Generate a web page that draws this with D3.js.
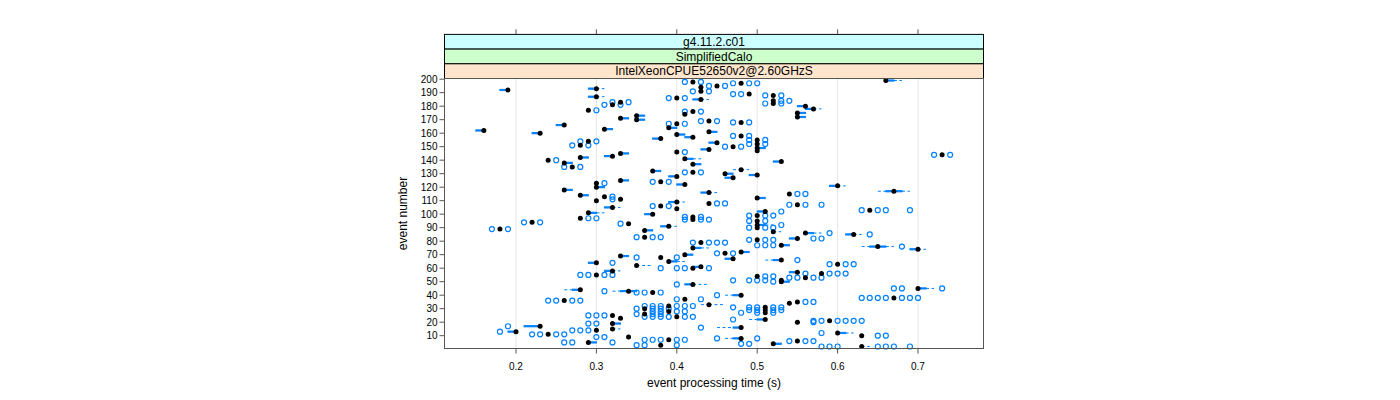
<!DOCTYPE html>
<html><head><meta charset="utf-8">
<script src="https://cdn.jsdelivr.net/npm/d3@7"></script>
<style>body{margin:0;background:#fff}svg{display:block;font-family:"Liberation Sans",Arial,Helvetica,sans-serif}</style>
</head><body><svg id="chart" width="1400" height="400"></svg>
<script>
const stripLabels = ["g4.11.2.c01", "SimplifiedCalo", "IntelXeonCPUE52650v2@2.60GHzS"];
const stripColors = ["#ccffff", "#ccffcc", "#ffe5cc"];
const xTicks = [0.2, 0.3, 0.4, 0.5, 0.6, 0.7];
const yTicks = [10,20,30,40,50,60,70,80,90,100,110,120,130,140,150,160,170,180,190,200];
const xLabel = "event processing time (s)";
const yLabel = "event number";

// [event, lower whisker, Q1, median, Q3, upper whisker]
const boxStats = [
[199,0.66,0.66,0.66,0.67,0.68],[198,0.42,0.42,0.42,0.42,0.42],[197,0.48,0.48,0.48,0.48,0.48],
[195,0.45,0.45,0.45,0.45,0.45],[194,0.43,0.43,0.43,0.43,0.43],[193,0.29,0.29,0.30,0.30,0.31],
[192,0.18,0.18,0.19,0.19,0.19],[191,0.43,0.43,0.43,0.43,0.43],[189,0.49,0.49,0.49,0.49,0.49],
[188,0.52,0.52,0.52,0.52,0.52],[187,0.29,0.29,0.30,0.30,0.31],[186,0.40,0.40,0.40,0.40,0.40],
[185,0.42,0.42,0.43,0.43,0.44],[184,0.52,0.52,0.52,0.52,0.52],[183,0.33,0.33,0.33,0.33,0.33],
[182,0.52,0.52,0.52,0.52,0.52],[181,0.32,0.32,0.32,0.32,0.32],[180,0.55,0.55,0.56,0.56,0.56],
[178,0.56,0.56,0.57,0.57,0.58],[177,0.29,0.29,0.29,0.29,0.29],[176,0.42,0.42,0.42,0.42,0.42],
[175,0.55,0.55,0.55,0.56,0.56],[174,0.41,0.41,0.41,0.41,0.41],[173,0.35,0.35,0.35,0.36,0.36],
[172,0.55,0.55,0.55,0.56,0.56],[171,0.33,0.33,0.33,0.34,0.34],[170,0.35,0.35,0.35,0.36,0.36],
[169,0.44,0.44,0.44,0.44,0.44],[168,0.48,0.48,0.48,0.48,0.48],[167,0.40,0.40,0.40,0.40,0.40],
[166,0.25,0.25,0.26,0.26,0.26],[164,0.39,0.39,0.39,0.40,0.40],[163,0.31,0.31,0.31,0.32,0.32],
[162,0.15,0.15,0.16,0.16,0.16],[161,0.44,0.44,0.44,0.45,0.45],[160,0.22,0.22,0.23,0.23,0.23],
[159,0.40,0.40,0.40,0.41,0.41],[158,0.48,0.48,0.48,0.48,0.48],[157,0.41,0.41,0.42,0.42,0.42],
[156,0.37,0.37,0.38,0.38,0.38],[155,0.50,0.50,0.50,0.50,0.50],[154,0.29,0.29,0.29,0.29,0.29],
[153,0.44,0.44,0.45,0.45,0.45],[152,0.50,0.50,0.50,0.50,0.50],[151,0.28,0.28,0.28,0.28,0.28],
[150,0.47,0.47,0.47,0.47,0.47],[149,0.50,0.50,0.50,0.51,0.51],[148,0.43,0.43,0.44,0.44,0.44],
[147,0.50,0.50,0.50,0.50,0.50],[146,0.40,0.40,0.40,0.40,0.40],[145,0.33,0.33,0.33,0.34,0.34],
[144,0.73,0.73,0.73,0.73,0.73],[143,0.31,0.31,0.32,0.32,0.32],[142,0.28,0.28,0.28,0.29,0.29],
[141,0.41,0.41,0.41,0.42,0.43],[140,0.24,0.24,0.24,0.24,0.24],[139,0.52,0.52,0.53,0.53,0.53],
[138,0.26,0.26,0.26,0.27,0.27],[137,0.42,0.42,0.42,0.43,0.43],[135,0.27,0.27,0.27,0.27,0.27],
[133,0.47,0.48,0.48,0.48,0.49],[132,0.37,0.37,0.37,0.38,0.38],[131,0.42,0.42,0.42,0.42,0.42],
[130,0.46,0.46,0.46,0.47,0.47],[129,0.49,0.49,0.50,0.50,0.50],[128,0.39,0.39,0.40,0.40,0.40],
[127,0.46,0.46,0.47,0.47,0.47],[125,0.33,0.33,0.33,0.34,0.34],[124,0.38,0.38,0.38,0.38,0.38],
[123,0.30,0.30,0.30,0.30,0.30],[122,0.40,0.40,0.41,0.41,0.41],[121,0.59,0.59,0.60,0.60,0.61],
[120,0.30,0.30,0.30,0.31,0.31],[118,0.26,0.26,0.26,0.27,0.27],[117,0.65,0.66,0.67,0.68,0.69],
[116,0.43,0.43,0.44,0.44,0.45],[115,0.54,0.54,0.54,0.54,0.54],[114,0.28,0.28,0.28,0.29,0.29],
[113,0.31,0.31,0.31,0.31,0.31],[112,0.50,0.50,0.50,0.51,0.51],[111,0.33,0.33,0.33,0.33,0.33],
[110,0.30,0.30,0.30,0.30,0.30],[109,0.39,0.39,0.40,0.40,0.41],[108,0.44,0.44,0.44,0.44,0.44],
[107,0.55,0.55,0.55,0.55,0.55],[106,0.38,0.38,0.38,0.38,0.38],[105,0.31,0.31,0.32,0.32,0.33],
[104,0.40,0.40,0.40,0.40,0.40],[103,0.64,0.64,0.64,0.64,0.64],[102,0.50,0.50,0.51,0.51,0.51],
[101,0.29,0.29,0.29,0.30,0.31],[100,0.36,0.36,0.37,0.37,0.37],[99,0.50,0.50,0.50,0.50,0.50],
[98,0.42,0.42,0.42,0.42,0.42],[97,0.28,0.28,0.28,0.28,0.28],[96,0.42,0.42,0.42,0.42,0.42],
[95,0.50,0.50,0.50,0.50,0.50],[94,0.22,0.22,0.22,0.22,0.22],[93,0.34,0.34,0.34,0.34,0.34],
[92,0.50,0.50,0.50,0.51,0.52],[91,0.38,0.38,0.39,0.39,0.40],[90,0.50,0.50,0.50,0.50,0.50],
[89,0.18,0.18,0.18,0.18,0.18],[88,0.36,0.36,0.36,0.37,0.37],[87,0.52,0.52,0.52,0.52,0.53],
[86,0.56,0.56,0.56,0.57,0.58],[85,0.61,0.61,0.62,0.62,0.63],[83,0.36,0.36,0.36,0.36,0.36],
[82,0.54,0.54,0.55,0.55,0.55],[81,0.50,0.50,0.50,0.50,0.50],[79,0.43,0.43,0.43,0.43,0.43],
[77,0.53,0.53,0.53,0.54,0.54],[76,0.63,0.64,0.65,0.66,0.67],[75,0.42,0.42,0.42,0.43,0.44],
[74,0.69,0.69,0.70,0.70,0.71],[72,0.48,0.48,0.48,0.49,0.49],[71,0.46,0.46,0.46,0.46,0.46],
[70,0.41,0.41,0.41,0.42,0.42],[69,0.33,0.33,0.33,0.34,0.34],[68,0.38,0.38,0.38,0.38,0.38],
[67,0.46,0.46,0.47,0.47,0.47],[66,0.51,0.52,0.53,0.53,0.53],[65,0.39,0.39,0.39,0.40,0.41],
[64,0.29,0.29,0.30,0.30,0.30],[63,0.60,0.60,0.60,0.60,0.60],[62,0.35,0.35,0.35,0.35,0.37],
[61,0.42,0.42,0.43,0.43,0.43],[60,0.42,0.42,0.42,0.42,0.42],[58,0.31,0.31,0.32,0.32,0.33],
[57,0.54,0.54,0.55,0.55,0.55],[56,0.58,0.58,0.58,0.58,0.58],[55,0.30,0.30,0.30,0.30,0.30],
[54,0.50,0.50,0.50,0.50,0.50],[53,0.56,0.56,0.56,0.56,0.56],[51,0.53,0.53,0.53,0.53,0.53],
[50,0.53,0.53,0.53,0.54,0.54],[48,0.41,0.41,0.42,0.42,0.44],[45,0.70,0.70,0.70,0.71,0.72],
[44,0.26,0.27,0.28,0.28,0.28],[43,0.32,0.33,0.34,0.35,0.35],[42,0.37,0.37,0.37,0.37,0.37],
[40,0.46,0.47,0.48,0.48,0.48],[38,0.67,0.67,0.67,0.67,0.67],[37,0.41,0.41,0.41,0.41,0.41],
[36,0.26,0.26,0.26,0.26,0.26],[35,0.55,0.55,0.55,0.55,0.55],[34,0.54,0.54,0.54,0.54,0.54],
[33,0.43,0.44,0.44,0.44,0.46],[32,0.39,0.39,0.39,0.39,0.39],[31,0.51,0.51,0.51,0.51,0.51],
[30,0.36,0.36,0.36,0.36,0.36],[29,0.51,0.51,0.51,0.51,0.51],[28,0.39,0.39,0.39,0.39,0.39],
[27,0.51,0.51,0.51,0.51,0.51],[26,0.36,0.36,0.36,0.36,0.36],[25,0.32,0.32,0.32,0.32,0.32],
[24,0.40,0.40,0.40,0.40,0.40],[23,0.33,0.33,0.33,0.33,0.33],[22,0.49,0.50,0.51,0.51,0.51],
[21,0.59,0.59,0.59,0.59,0.59],[20,0.55,0.55,0.55,0.55,0.55],[19,0.32,0.32,0.32,0.33,0.33],
[17,0.21,0.21,0.23,0.23,0.23],[16,0.45,0.47,0.48,0.48,0.48],[15,0.32,0.32,0.32,0.32,0.33],
[14,0.30,0.30,0.30,0.30,0.30],[13,0.19,0.19,0.20,0.20,0.20],[12,0.60,0.60,0.60,0.61,0.62],
[11,0.24,0.24,0.24,0.24,0.24],[10,0.63,0.63,0.63,0.63,0.63],[9,0.34,0.34,0.34,0.34,0.34],
[8,0.46,0.47,0.48,0.48,0.48],[7,0.39,0.39,0.39,0.39,0.39],[6,0.55,0.55,0.55,0.55,0.55],
[5,0.29,0.29,0.29,0.30,0.30],[4,0.52,0.52,0.52,0.53,0.53],[3,0.38,0.38,0.38,0.38,0.38],
[2,0.63,0.63,0.63,0.63,0.64]
];

// [event, [outlying values]]
const outlierPoints = [
[198,[0.41,0.43]],[197,[0.47,0.49,0.50]],[195,[0.44,0.46]],[191,[0.42,0.44]],[189,[0.47,0.48]],
[188,[0.51,0.53]],[186,[0.39,0.41]],[184,[0.53,0.54]],[183,[0.32,0.34]],[182,[0.51,0.53]],
[181,[0.31,0.33]],[177,[0.30]],[176,[0.41,0.43]],[169,[0.43,0.45]],[168,[0.47,0.49]],
[167,[0.39,0.41]],[158,[0.47,0.49]],[155,[0.49,0.51]],[154,[0.28,0.30]],[152,[0.49,0.51]],
[151,[0.27,0.29]],[150,[0.46,0.48]],[146,[0.41]],[144,[0.72,0.74]],[140,[0.25]],
[135,[0.26,0.28]],[131,[0.41,0.43]],[124,[0.37,0.39]],[123,[0.31]],[115,[0.55,0.56]],
[113,[0.32]],[111,[0.32]],[108,[0.45,0.46]],[107,[0.54,0.56,0.58]],[106,[0.37,0.39]],
[103,[0.63,0.65,0.66,0.69]],[102,[0.53]],[99,[0.49,0.51,0.52]],[98,[0.41,0.43]],[97,[0.29,0.30]],
[96,[0.41,0.43,0.44]],[95,[0.49,0.51]],[94,[0.21,0.23]],[93,[0.33]],[92,[0.53]],
[90,[0.49,0.51,0.52]],[89,[0.17,0.19]],[86,[0.59]],[85,[0.64]],[83,[0.35,0.37,0.38]],
[82,[0.57,0.58]],[81,[0.49,0.51,0.52]],[79,[0.42,0.44,0.45,0.46]],[77,[0.50,0.51,0.52]],
[76,[0.68]],[71,[0.45,0.47]],[68,[0.35,0.40]],[66,[0.55]],[64,[0.32]],[63,[0.59,0.61,0.62]],
[60,[0.38,0.40,0.41,0.44]],[56,[0.56,0.59,0.60,0.61]],[55,[0.28,0.29,0.31,0.32]],[54,[0.51,0.52]],
[53,[0.54,0.55,0.57,0.58]],[51,[0.47,0.49,0.50,0.51]],[50,[0.52]],[48,[0.40]],[45,[0.67,0.68,0.73]],
[43,[0.31]],[42,[0.35,0.36,0.38]],[40,[0.45]],[38,[0.63,0.64,0.65,0.66,0.68,0.69,0.70]],
[37,[0.40,0.43]],[36,[0.24,0.25,0.27,0.28]],[35,[0.56,0.57]],[32,[0.36,0.37,0.38,0.40,0.41,0.42]],
[31,[0.47,0.49,0.50,0.52,0.53]],[30,[0.35,0.37,0.38,0.39]],[29,[0.49,0.50,0.52,0.53]],
[28,[0.37,0.38,0.40,0.41]],[27,[0.48,0.50,0.52]],[26,[0.35,0.37,0.38]],[25,[0.29,0.30,0.31]],
[24,[0.36,0.37,0.38,0.39,0.41,0.42]],[22,[0.47]],[21,[0.57,0.58,0.60,0.61,0.62,0.63]],[20,[0.57]],
[19,[0.29,0.30]],[17,[0.19]],[16,[0.43]],[14,[0.27,0.28,0.29]],[13,[0.18]],[12,[0.58]],
[11,[0.22,0.23,0.25,0.26]],[10,[0.65,0.66]],[9,[0.30,0.31]],[8,[0.45,0.50]],
[7,[0.36,0.37,0.38,0.40,0.41]],[6,[0.54,0.56,0.57]],[5,[0.26,0.27,0.32]],[4,[0.48,0.49]],
[3,[0.35,0.36,0.40]],[2,[0.58,0.59,0.60,0.65,0.66,0.67,0.69]]
];

const svg = d3.select("#chart");
const P = {left: 444.5, right: 983.5, top: 78.5, bottom: 348.5};
const stripH = 14.7;
const blue = "#0080ff";

const x = d3.scaleLinear().domain([0.11045, 0.78085]).range([444, 983]);
const y = d3.scaleLinear().domain([0.5, 200.5]).range([P.bottom, P.top]);

// grid
svg.append("g").selectAll("line").data(xTicks).join("line")
  .attr("x1", d => x(d)).attr("x2", d => x(d))
  .attr("y1", P.top).attr("y2", P.bottom)
  .attr("stroke", "#e6e6e6").attr("stroke-width", 1);

// strips
const strips = svg.append("g");
stripLabels.forEach((lab, i) => {
  const y0 = P.top - (3 - i) * stripH;
  strips.append("rect").attr("x", P.left).attr("y", y0)
    .attr("width", P.right - P.left).attr("height", stripH)
    .attr("fill", stripColors[i]).attr("stroke", "#000").attr("stroke-width", 1);
  strips.append("text").attr("x", (P.left + P.right) / 2).attr("y", y0 + stripH / 2 + 4.3)
    .attr("text-anchor", "middle").attr("font-size", 12).attr("fill", "#000").text(lab);
});

// whiskers
const marks = svg.append("g");
marks.selectAll("line.wl").data(boxStats.filter(d => d[1] < d[2])).join("line")
  .attr("x1", d => x(d[1])).attr("x2", d => x(d[2]))
  .attr("y1", d => y(d[0])).attr("y2", d => y(d[0]))
  .attr("stroke", blue).attr("stroke-width", 1).attr("stroke-dasharray", "3,2.5");
marks.selectAll("line.wh").data(boxStats.filter(d => d[5] > d[4])).join("line")
  .attr("x1", d => x(d[4])).attr("x2", d => x(d[5]))
  .attr("y1", d => y(d[0])).attr("y2", d => y(d[0]))
  .attr("stroke", blue).attr("stroke-width", 1).attr("stroke-dasharray", "3,2.5");
// boxes (very flat)
marks.selectAll("rect.box").data(boxStats.filter(d => d[4] > d[2])).join("rect")
  .attr("x", d => x(d[2])).attr("width", d => x(d[4]) - x(d[2]))
  .attr("y", d => y(d[0]) - 0.6).attr("height", 1.2)
  .attr("fill", blue).attr("stroke", blue).attr("stroke-width", 1);

// outliers
const outFlat = outlierPoints.flatMap(([ev, vals]) => vals.map(v => [ev, v]));
marks.selectAll("circle.out").data(outFlat).join("circle")
  .attr("cx", d => x(d[1])).attr("cy", d => y(d[0])).attr("r", 2.5)
  .attr("fill", "none").attr("stroke", blue).attr("stroke-width", 1.2);

// medians
marks.selectAll("circle.med").data(boxStats).join("circle")
  .attr("cx", d => x(d[3])).attr("cy", d => y(d[0])).attr("r", 2.5)
  .attr("fill", "#000");

// panel border
svg.append("rect").attr("x", P.left).attr("y", P.top)
  .attr("width", P.right - P.left).attr("height", P.bottom - P.top)
  .attr("fill", "none").attr("stroke", "#555").attr("stroke-width", 1);

// axes
const axisCol = "#555";
const topT = svg.append("g");
topT.selectAll("line").data(xTicks).join("line")
  .attr("x1", d => x(d)).attr("x2", d => x(d))
  .attr("y1", P.top - 3 * stripH - 5).attr("y2", P.top - 3 * stripH)
  .attr("stroke", axisCol);
const botT = svg.append("g");
botT.selectAll("line").data(xTicks).join("line")
  .attr("x1", d => x(d)).attr("x2", d => x(d))
  .attr("y1", P.bottom).attr("y2", P.bottom + 5).attr("stroke", axisCol);
botT.selectAll("text").data(xTicks).join("text")
  .attr("x", d => x(d)).attr("y", P.bottom + 21)
  .attr("text-anchor", "middle").attr("font-size", 10).text(d => d3.format(".1f")(d));
const leftT = svg.append("g");
leftT.selectAll("line").data(yTicks).join("line")
  .attr("x1", P.left - 5).attr("x2", P.left)
  .attr("y1", d => y(d)).attr("y2", d => y(d)).attr("stroke", axisCol);
leftT.selectAll("text").data(yTicks).join("text")
  .attr("x", P.left - 7).attr("y", d => y(d) + 3.6)
  .attr("text-anchor", "end").attr("font-size", 10).text(d => d);

svg.append("text").attr("x", (P.left + P.right) / 2).attr("y", 387)
  .attr("text-anchor", "middle").attr("font-size", 12).text(xLabel);
svg.append("text").attr("transform", `translate(407,${(P.top + P.bottom) / 2}) rotate(-90)`)
  .attr("text-anchor", "middle").attr("font-size", 12).text(yLabel);
</script>
</body></html>
